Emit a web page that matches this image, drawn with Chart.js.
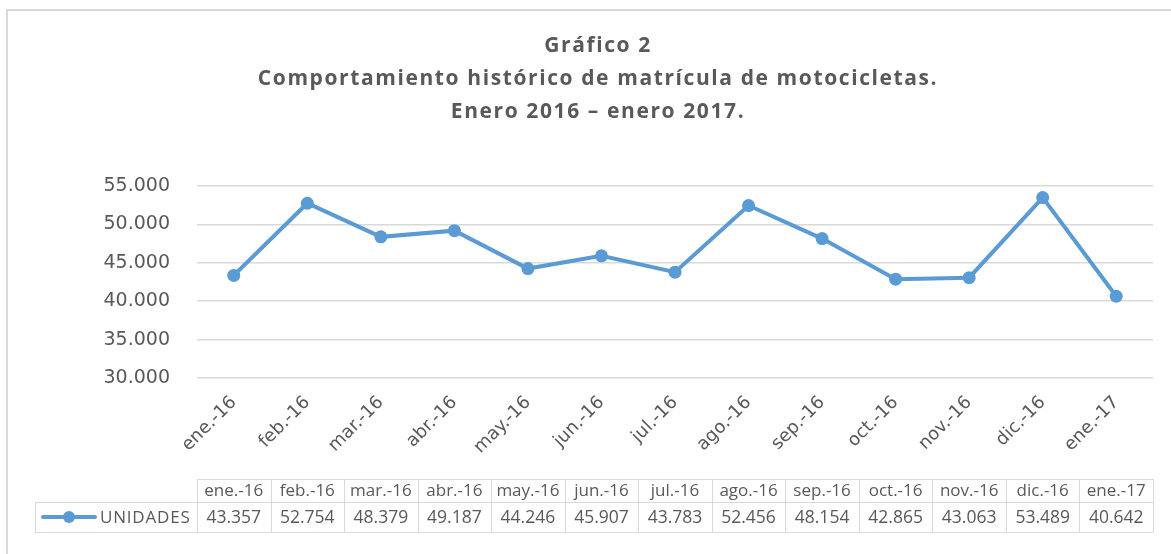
<!DOCTYPE html>
<html>
<head>
<meta charset="utf-8">
<script src="https://cdn.jsdelivr.net/npm/chart.js@4.4.1/dist/chart.umd.min.js"></script>
<style>
  html, body { margin: 0; padding: 0; background: #fff; }
  #wrap { width: 1171px; height: 554px; position: relative; }
</style>
</head>
<body>
<div id="wrap"><canvas id="myChart" width="1171" height="554"></canvas></div>
<script>
const meses = ['ene.-16', 'feb.-16', 'mar.-16', 'abr.-16', 'may.-16', 'jun.-16', 'jul.-16', 'ago.-16', 'sep.-16', 'oct.-16', 'nov.-16', 'dic.-16', 'ene.-17'];
const unidades = [43357, 52754, 48379, 49187, 44246, 45907, 43783, 52456, 48154, 42865, 43063, 53489, 40642];
const serieNombre = 'UNIDADES';
const tituloLineas = ['Gráfico 2', 'Comportamiento histórico de matrícula de motocicletas.', 'Enero 2016 – enero 2017.'];

const azul = '#5b9bd5';
const gris = '#595959';
const rejilla = '#d9d9d9';

const fmt = v => v.toLocaleString('de-DE');

// marco, titulo y tabla de datos debajo del eje
const tablaPlugin = {
  id: 'tabla',
  beforeDraw(chart) {
    const c = chart.ctx;
    c.save();
    c.strokeStyle = '#d9d9d9';
    c.lineWidth = 2;
    c.beginPath();
    c.moveTo(1171, 10);
    c.lineTo(7, 10);
    c.lineTo(7, 554);
    c.stroke();

    // titulo (texto algo espaciado como en el original)
    c.fillStyle = gris;
    c.textAlign = 'center';
    c.textBaseline = 'middle';
    c.font = 'bold 21px "Open Sans", sans-serif';
    c.letterSpacing = '1.6px';
    tituloLineas.forEach((t, i) => c.fillText(t, 598, 46 + i * 33));
    c.restore();
  },
  afterDraw(chart) {
    const c = chart.ctx;
    const x = chart.scales.x;
    const area = chart.chartArea;
    const top = 479, mid = 502, bot = 532, labelLeft = 35;
    const step = (area.right - area.left) / meses.length;
    c.save();
    c.strokeStyle = rejilla;
    c.lineWidth = 1;
    c.beginPath();
    c.moveTo(area.left, top + 0.5); c.lineTo(area.right, top + 0.5);
    c.moveTo(labelLeft, mid + 0.5); c.lineTo(area.right, mid + 0.5);
    c.moveTo(labelLeft, bot + 0.5); c.lineTo(area.right, bot + 0.5);
    c.moveTo(labelLeft + 0.5, mid); c.lineTo(labelLeft + 0.5, bot);
    for (let i = 0; i <= meses.length; i++) {
      const bx = Math.round(area.left + i * step) + 0.5;
      c.moveTo(bx, top); c.lineTo(bx, bot);
    }
    c.stroke();

    c.fillStyle = gris;
    c.textAlign = 'center';
    c.textBaseline = 'middle';
    meses.forEach((m, i) => {
      const cx = x.getPixelForValue(i);
      c.font = '17px "Open Sans", sans-serif';
      c.fillText(m, cx, (top + mid) / 2 + 1);
      c.font = '17.5px "Open Sans", sans-serif';
      c.fillText(fmt(unidades[i]), cx, (mid + bot) / 2 + 1);
    });

    // leyenda
    const ly = (mid + bot) / 2;
    c.strokeStyle = azul;
    c.lineWidth = 4;
    c.lineCap = 'round';
    c.beginPath(); c.moveTo(43, ly); c.lineTo(95, ly); c.stroke();
    c.fillStyle = azul;
    c.beginPath(); c.arc(69, ly, 6, 0, Math.PI * 2); c.fill();
    c.fillStyle = gris;
    c.textAlign = 'left';
    c.font = '17px "Open Sans", sans-serif';
    c.letterSpacing = '0.8px';
    c.fillText(serieNombre, 100, ly + 1);
    c.restore();
  }
};

const ctx = document.getElementById('myChart').getContext('2d');
const myChart = new Chart(ctx, {
  type: 'line',
  data: {
    labels: meses,
    datasets: [{
      label: serieNombre,
      data: unidades,
      borderColor: azul,
      backgroundColor: azul,
      borderWidth: 4,
      pointRadius: 6.5,
      pointHoverRadius: 6.5,
      pointBackgroundColor: azul,
      pointBorderWidth: 0,
      tension: 0
    }]
  },
  options: {
    responsive: false,
    animation: false,
    layout: { padding: { left: 35, right: 18, top: 186, bottom: 76 } },
    plugins: {
      legend: { display: false },
      tooltip: { enabled: false },
      title: { display: false }
    },
    scales: {
      x: {
        offset: true,
        grid: { display: false },
        border: { display: false },
        ticks: {
          color: gris,
          font: { family: '"DejaVu Sans", sans-serif', size: 18 },
          minRotation: 45,
          maxRotation: 45,
          autoSkip: false,
          padding: 6
        },
        afterFit(s) { s.height = 100; }
      },
      y: {
        min: 30000,
        max: 55000,
        grid: { color: rejilla, lineWidth: 1.5, drawTicks: false },
        border: { display: false },
        ticks: {
          stepSize: 5000,
          color: gris,
          padding: 27,
          font: { family: '"DejaVu Sans", sans-serif', size: 19 },
          callback: v => fmt(v)
        },
        afterFit(s) { s.width = 162; }
      }
    }
  },
  plugins: [tablaPlugin]
});
</script>
</body>
</html>
